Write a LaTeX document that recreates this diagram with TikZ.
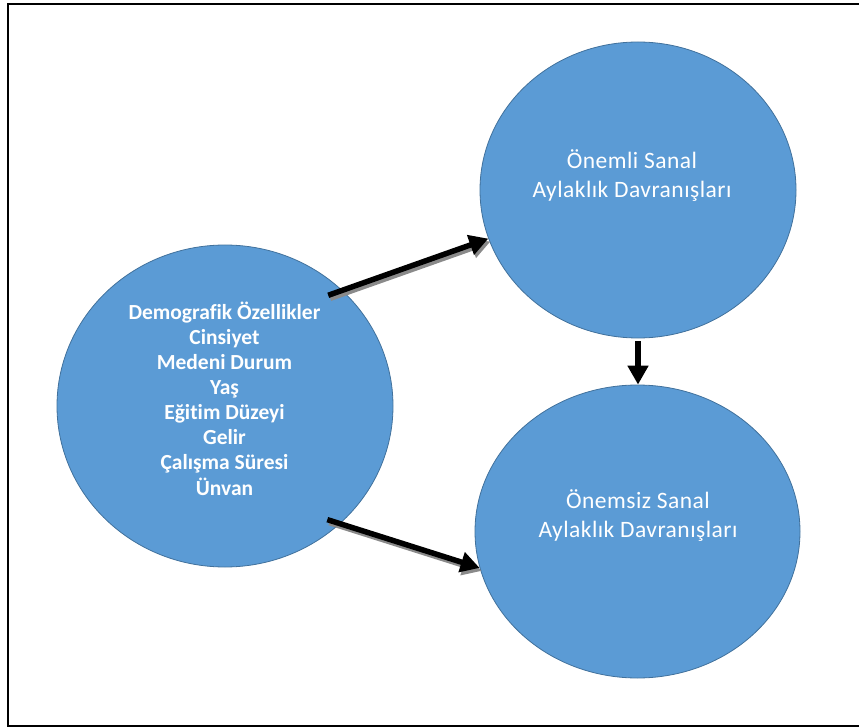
\documentclass[tikz,border=0pt]{standalone}
\usepackage{fontspec}
\setmainfont[Ligatures=NoCommon]{Carlito}
\usetikzlibrary{arrows.meta,shapes.geometric,calc}
\definecolor{blobfill}{HTML}{5B9BD5}
\definecolor{blobline}{HTML}{41719C}
\definecolor{shadegray}{HTML}{8A8A8A}
\begin{document}
\begin{tikzpicture}[x=1pt,y=-1pt,
  blob/.style={ellipse, fill=blobfill, draw=blobline, line width=0.8pt, inner sep=0pt},
  lbl/.style={text=white, align=center, inner sep=0pt},
  arr/.style={line width=5.5pt, -{Triangle[length=19pt,width=20pt]}},
  arrshadow/.style={arr, draw=shadegray, transform canvas={shift={(2pt,-3pt)}}},
  frame/.style={line width=2pt}
]
\useasboundingbox (0,0) rectangle (859,727);
\draw[frame] (8,4) rectangle (862,725.5);

\node[blob, minimum width=336pt, minimum height=322pt] (left) at (225,406) {};
\node[blob, minimum width=316pt, minimum height=296pt] (tr) at (638,190) {};
\node[blob, minimum width=325pt, minimum height=293pt] (br) at (637.5,531.5) {};

\node[lbl, font=\fontsize{21.5}{25.1}\selectfont\bfseries] (lefttext) at (224.5,398.5)
  {Demografik Özellikler\\Cinsiyet\\Medeni Durum\\Yaş\\Eğitim Düzeyi\\Gelir\\Çalışma Süresi\\Ünvan};
\node[lbl, font=\fontsize{23.5}{29}\selectfont\addfontfeatures{LetterSpace=2}] (trtext) at (632,175.4)
  {Önemli Sanal\\Aylaklık Davranışları};
\node[lbl, font=\fontsize{23.5}{29}\selectfont\addfontfeatures{LetterSpace=2}] (brtext) at (638,515.4)
  {Önemsiz Sanal\\Aylaklık Davranışları};

\coordinate (s1) at ($(left.center)!0.92!(left.47)$);
\coordinate (s2) at ($(left.center)!0.93!(left.-48)$);

\draw[arrshadow] (s1) -- (tr.198);
\draw[arr] (s1) -- (tr.198);
\draw[arrshadow] (s2) -- (br.193);
\draw[arr] (s2) -- (br.193);
\draw[arr] ($(tr.south)+(0,3)$) -- (tr.south |- br.north);
\end{tikzpicture}
\end{document}
